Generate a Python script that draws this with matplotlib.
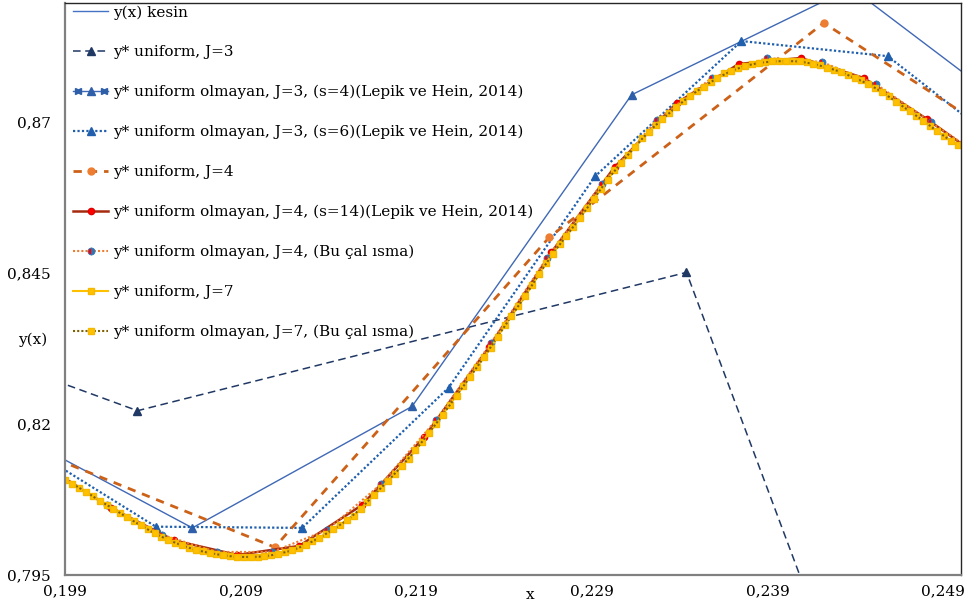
import numpy as np
import matplotlib
matplotlib.use("Agg")
import matplotlib.pyplot as plt
from matplotlib.lines import Line2D
from matplotlib.legend_handler import HandlerTuple, HandlerLine2D

# --- data ---
x_ticks = [0.199, 0.209, 0.219, 0.229, 0.239, 0.249]
x_labels = ["0,199", "0,209", "0,219", "0,229", "0,239", "0,249"]
y_ticks = [0.795, 0.82, 0.845, 0.87]
y_labels = ["0,795", "0,82", "0,845", "0,87"]

# uniform J=3
x_j3u = [0.171875, 0.203125, 0.234375, 0.265625]
y_j3u = [0.8554, 0.8222, 0.8451, 0.6021]

# non-uniform J=3, s=4
x_j3s4 = [0.19375, 0.20625, 0.21875, 0.23125, 0.24375, 0.25625]
y_j3s4 = [0.8222, 0.8028, 0.8229, 0.8745, 0.8922, 0.8647]

# non-uniform J=3, s=6
x_j3s6 = [0.19583, 0.20417, 0.21250, 0.22083, 0.22917, 0.23750, 0.24583, 0.25417]
y_j3s6 = [0.8181, 0.8030, 0.8028, 0.8260, 0.8610, 0.8834, 0.8809, 0.8620]

# uniform J=4
x_j4u = [0.195313, 0.210938, 0.226563, 0.242188, 0.257813]
y_j4u = [0.8179, 0.7996, 0.8509, 0.8864, 0.8570]

# non-uniform J=4, s=14
x_j4s14 = [0.19803, 0.20162, 0.20521, 0.20880, 0.21233, 0.21592, 0.21946, 0.22316,
           0.22669, 0.23028, 0.23382, 0.23735, 0.24088, 0.24447, 0.24806, 0.25165]
y_j4s14 = [0.81275, 0.80612, 0.80072, 0.79832, 0.79981, 0.80661, 0.81789, 0.83282,
           0.84842, 0.86252, 0.87314, 0.87961, 0.88060, 0.87728, 0.87048, 0.86302]

# non-uniform J=4, this study
x_j4bu = [0.19826, 0.20139, 0.20453, 0.20766, 0.21079, 0.21393, 0.21701, 0.22014, 0.22327,
          0.22641, 0.22954, 0.23268, 0.23581, 0.23894, 0.24208, 0.24515, 0.24829, 0.25142]
y_j4bu = [0.81242, 0.80661, 0.80164, 0.79882, 0.79882, 0.80247, 0.81010, 0.82071, 0.83349,
          0.84742, 0.85970, 0.87032, 0.87728, 0.88060, 0.87994, 0.87629, 0.86998, 0.86385]

# uniform J=7 (collocation grid)
x_j7u = (np.arange(510, 641, 2) - 0.5) / 2560
y_j7u = [0.81076, 0.80943, 0.80802, 0.80661, 0.80520, 0.80388, 0.80255, 0.80130, 0.80031,
         0.79948, 0.79890, 0.79840, 0.79807, 0.79799, 0.79799, 0.79824, 0.79873, 0.79948,
         0.80056, 0.80180, 0.80329, 0.80479, 0.80711, 0.80943, 0.81176, 0.81424, 0.81706,
         0.81997, 0.82320, 0.82627, 0.82951, 0.83266, 0.83631, 0.83946, 0.84294, 0.84659,
         0.84975, 0.85257, 0.85572, 0.85887, 0.86202, 0.86451, 0.86733, 0.86949, 0.87148,
         0.87347, 0.87513, 0.87662, 0.87803, 0.87894, 0.87952, 0.87994, 0.88010, 0.88010,
         0.87985, 0.87936, 0.87869, 0.87778, 0.87687, 0.87571, 0.87430, 0.87247, 0.87106,
         0.86940, 0.86766, 0.86617]

# non-uniform J=7, this study
x_j7bu = (np.arange(511, 640, 2) - 0.5) / 2560
y_j7bu = [0.81010, 0.80877, 0.80728, 0.80595, 0.80454, 0.80321, 0.80188, 0.80081, 0.79989,
          0.79915, 0.79865, 0.79824, 0.79799, 0.79799, 0.79807, 0.79848, 0.79906, 0.79998,
          0.80114, 0.80255, 0.80404, 0.80595, 0.80827, 0.81059, 0.81300, 0.81565, 0.81856,
          0.82154, 0.82470, 0.82785, 0.83108, 0.83448, 0.83788, 0.84120, 0.84477, 0.84817,
          0.85116, 0.85414, 0.85729, 0.86045, 0.86327, 0.86592, 0.86841, 0.87048, 0.87247,
          0.87430, 0.87587, 0.87728, 0.87844, 0.87927, 0.87977, 0.88002, 0.88010, 0.88002,
          0.87961, 0.87902, 0.87828, 0.87728, 0.87629, 0.87496, 0.87338, 0.87181, 0.87023,
          0.86849, 0.86691]

# exact solution lies under the J=7 curve
x_kesin = x_j7u
y_kesin = y_j7u

plt.rcParams['font.family'] = ['DejaVu Serif']

fig = plt.figure(figsize=(9.65, 6.09), dpi=100)
ax = fig.add_axes([65 / 965, 34 / 609, 896 / 965, 572 / 609])

h_kesin, = ax.plot(x_kesin, y_kesin, color="#4472C4", lw=1.0)
h_j3u, = ax.plot(x_j3u, y_j3u, color="#203864", lw=1.1, ls=(0, (5, 3)),
                 marker="^", ms=6, mfc="#203864", mec="#203864")
h_j3s4, = ax.plot(x_j3s4, y_j3s4, color="#3F68B5", lw=1.0,
                  marker="^", ms=6, mfc="#2E5FA8", mec="#2E5FA8")
h_j3s6, = ax.plot(x_j3s6, y_j3s6, color="#1F5FAD", lw=1.6, ls=(0, (1, 1)),
                  marker="^", ms=6, mfc="#1F5FAD", mec="#1F5FAD")
h_j4u, = ax.plot(x_j4u, y_j4u, color="#CC6118", lw=2.0, ls=(0, (3, 2.5)),
                 marker="o", ms=5, mfc="#ED7D31", mec="#ED7D31")
h_j4s14, = ax.plot(x_j4s14, y_j4s14, color="#A52A0F", lw=1.8,
                   marker="o", ms=4.5, mfc="#FF0000", mec="#E00000")
h_j4bu, = ax.plot(x_j4bu, y_j4bu, color="#ED7D31", lw=1.5, ls=(0, (1, 1)),
                  marker="o", ms=5, mfc="#2E75B6", mfcalt="#FF0000",
                  fillstyle="right", mec="#2E75B6", mew=0.6)
h_j7u, = ax.plot(x_j7u, y_j7u, color="#FFC000", lw=1.5,
                 marker="s", ms=4.5, mfc="#FFC000", mec="#F5B800")
h_j7bu, = ax.plot(x_j7bu, y_j7bu, color="#7F6000", lw=1.5, ls=(0, (1, 1)),
                  marker="s", ms=4.5, mfc="#FFC000", mec="#F5B800")

ax.set_xlim(0.199, 0.25)
ax.set_ylim(0.795, 0.8897)
ax.set_xticks(x_ticks)
ax.set_xticklabels(x_labels)
ax.set_yticks(y_ticks)
ax.set_yticklabels(y_labels)
ax.tick_params(axis="both", length=0, labelsize=11)
ax.tick_params(axis="y", pad=10)
ax.tick_params(axis="x", pad=7)

for side in ["left", "bottom"]:
    ax.spines[side].set_color("#808080")
    ax.spines[side].set_linewidth(1.6)
for side in ["top", "right"]:
    ax.spines[side].set_color("#262626")
    ax.spines[side].set_linewidth(1.0)

fig.text(530 / 965, 1 - 595 / 609, "x", fontsize=11, ha="center", va="center")
fig.text(33 / 965, 1 - 340 / 609, "y(x)", fontsize=11, ha="center", va="center")

# legend handle with arrow ends for the s=4 series
arr_l = Line2D([0], [0], ls="none", marker="<", ms=5, color="#2E5FA8", markevery=[0])
arr_r = Line2D([0], [0], ls="none", marker=">", ms=5, color="#2E5FA8", markevery=[1])

handles = [h_kesin, h_j3u, (h_j3s4, arr_l, arr_r), h_j3s6, h_j4u, h_j4s14,
           h_j4bu, h_j7u, h_j7bu]
labels = ["y(x) kesin",
          "y* uniform, J=3",
          "y* uniform olmayan, J=3, (s=4)(Lepik ve Hein, 2014)",
          "y* uniform olmayan, J=3, (s=6)(Lepik ve Hein, 2014)",
          "y* uniform, J=4",
          "y* uniform olmayan, J=4, (s=14)(Lepik ve Hein, 2014)",
          "y* uniform olmayan, J=4, (Bu çal ısma)",
          "y* uniform, J=7",
          "y* uniform olmayan, J=7, (Bu çal ısma)"]
ax.legend(handles, labels, loc="upper left", bbox_to_anchor=(6 / 896, 1.0),
          frameon=False, fontsize=11, numpoints=1, handlelength=2.3,
          handletextpad=0.3, labelspacing=1.68, borderaxespad=0.1, borderpad=0.05,
          handler_map={tuple: HandlerTuple(ndivide=1),
                       arr_l: HandlerLine2D(numpoints=2),
                       arr_r: HandlerLine2D(numpoints=2)})

fig.savefig("out.png", dpi=100)
